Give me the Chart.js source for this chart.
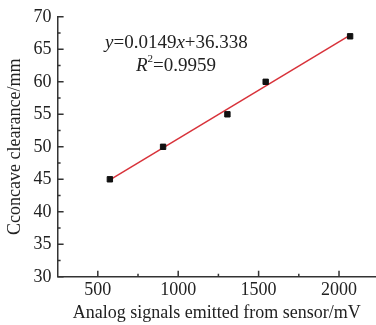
<!DOCTYPE html>
<html>
<head>
<meta charset="utf-8">
<script src="https://cdn.jsdelivr.net/npm/chart.js@4"></script>
<style>
  html, body { margin: 0; padding: 0; background: #fff; }
  #wrap { width: 376px; height: 325px; }
</style>
</head>
<body>
<div id="wrap"><canvas id="chart"></canvas></div>
<script>
const signals = [575, 906, 1306, 1544, 2069];
const clearance = [45, 50, 55, 60, 67];
const fitX = [575, 2069];
const slope = 0.0149;
const intercept = 36.338;
const xTicks = [500, 1000, 1500, 2000];
const xMinor = [750, 1250, 1750];
const yTicks = [30, 35, 40, 45, 50, 55, 60, 65, 70];
const yMinor = [32.5, 37.5, 42.5, 47.5, 52.5, 57.5, 62.5, 67.5];

const serif = '"Liberation Serif", "DejaVu Serif", serif';

// ticks on the inner side of the axes + fit equation
const innerTicks = {
    id: 'innerTicks',
    afterDraw(chart) {
        const ctx = chart.ctx;
        const xs = chart.scales.x, ys = chart.scales.y;
        const a = chart.chartArea;
        ctx.save();
        ctx.strokeStyle = '#333';
        ctx.lineWidth = 1.5;
        ctx.beginPath();
        xTicks.forEach(v => { const p = xs.getPixelForValue(v); ctx.moveTo(p, a.bottom); ctx.lineTo(p, a.bottom - 6); });
        xMinor.forEach(v => { const p = xs.getPixelForValue(v); ctx.moveTo(p, a.bottom); ctx.lineTo(p, a.bottom - 3); });
        yTicks.forEach(v => { const p = ys.getPixelForValue(v); ctx.moveTo(a.left, p); ctx.lineTo(a.left + 6, p); });
        yMinor.forEach(v => { const p = ys.getPixelForValue(v); ctx.moveTo(a.left, p); ctx.lineTo(a.left + 3, p); });
        ctx.stroke();

        ctx.fillStyle = '#222';
        ctx.textBaseline = 'alphabetic';
        const parts1 = [['y', true], ['=0.0149', false], ['x', true], ['+36.338', false]];
        let x = 105;
        parts1.forEach(([t, it]) => {
            ctx.font = (it ? 'italic ' : '') + '19px ' + serif;
            ctx.fillText(t, x, 48);
            x += ctx.measureText(t).width;
        });
        x = 136;
        ctx.font = 'italic 19px ' + serif;
        ctx.fillText('R', x, 71);
        x += ctx.measureText('R').width;
        ctx.font = '11px ' + serif;
        ctx.fillText('2', x, 62);
        x += ctx.measureText('2').width;
        ctx.font = '19px ' + serif;
        ctx.fillText('=0.9959', x, 71);
        ctx.restore();
    }
};

new Chart(document.getElementById('chart'), {
    type: 'scatter',
    data: {
        datasets: [
            {
                label: 'fit',
                type: 'line',
                data: fitX.map(v => ({ x: v, y: slope * v + intercept })),
                borderColor: '#d8323a',
                borderWidth: 1.5,
                pointRadius: 0,
                fill: false,
                order: 2
            },
            {
                label: 'measured',
                data: signals.map((v, i) => ({ x: v, y: clearance[i] })),
                backgroundColor: '#111',
                borderColor: '#111',
                pointStyle: 'rect',
                pointRadius: 3.8,
                order: 1
            }
        ]
    },
    options: {
        responsive: true,
        maintainAspectRatio: false,
        animation: false,
        layout: { autoPadding: false, padding: { top: 16, right: 0, left: 4, bottom: 1 } },
        plugins: {
            legend: { display: false },
            tooltip: { enabled: false }
        },
        scales: {
            x: {
                type: 'linear',
                min: 250,
                max: 2230,
                afterBuildTicks: s => { s.ticks = xTicks.map(v => ({ value: v })); },
                grid: { display: false, drawTicks: false },
                border: { display: true, color: '#333', width: 1.5 },
                ticks: { color: '#222', font: { family: serif, size: 18 }, padding: 3, callback: v => String(v) },
                title: {
                    display: true,
                    text: 'Analog signals emitted from sensor/mV',
                    color: '#222',
                    font: { family: serif, size: 18 },
                    padding: { top: -2, bottom: 0 }
                }
            },
            y: {
                min: 30,
                max: 70,
                afterBuildTicks: s => { s.ticks = yTicks.map(v => ({ value: v })); },
                grid: { display: false, drawTicks: false },
                border: { display: true, color: '#333', width: 1.5 },
                ticks: { color: '#222', font: { family: serif, size: 18 }, padding: 6, callback: v => String(v) },
                title: {
                    display: true,
                    text: 'Cconcave clearance/mm',
                    color: '#222',
                    font: { family: serif, size: 18 },
                    padding: { top: 0, bottom: 2 }
                }
            }
        }
    },
    plugins: [innerTicks]
});
</script>
</body>
</html>
